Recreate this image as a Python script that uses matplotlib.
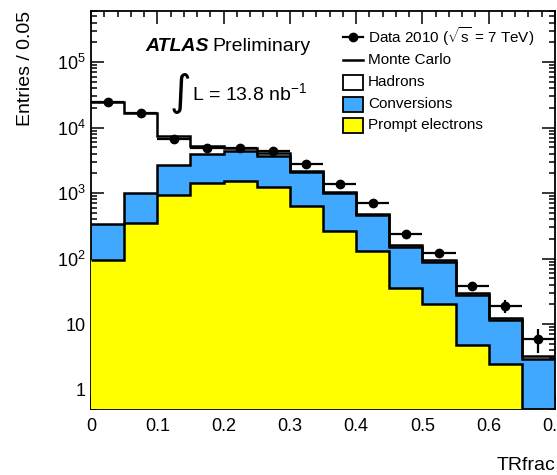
import numpy as np
import matplotlib
matplotlib.use("Agg")
import matplotlib.pyplot as plt
from matplotlib.patches import Rectangle
from matplotlib.ticker import MultipleLocator, LogLocator, FuncFormatter, NullFormatter

plt.rcParams["font.family"] = ["Liberation Sans", "DejaVu Sans"]
plt.rcParams["mathtext.fontset"] = "custom"
plt.rcParams["mathtext.rm"] = "Liberation Sans"
plt.rcParams["mathtext.it"] = "Liberation Sans:italic"

# --- histogram contents (TRfrac, bins of 0.05) ---
bin_edges = np.linspace(0.0, 0.7, 15)
prompt = [95, 345, 935, 1443, 1550, 1253, 635, 263, 132, 35, 20, 4.75, 2.5, 0]
conversions = [238, 670, 1755, 2520, 2850, 2480, 1445, 730, 333, 116, 69, 23, 9.0, 2.9]
hadrons = [23770, 15590, 4810, 1170, 440, 330, 120, 47, 20, 9, 6, 1.8, 0.8, 0.3]

data = [24100, 16400, 6720, 4840, 4940, 4450, 2790, 1393, 713, 239, 123, 37.6, 18.8, 6.0]
data_err = [155, 128, 82, 70, 70, 67, 53, 37, 27, 15.5, 11.1, 6.1, 4.3, 2.4]

BLUE = "#40A8FF"
YELLOW = "#FFFF00"

W, H = 557, 475
fig = plt.figure(figsize=(W / 100, H / 100), dpi=100)
ax = fig.add_axes([91 / W, 1 - 409.3 / H, (555 - 91) / W, (409.3 - 11) / H])

prompt_top = np.array(prompt, dtype=float)
conv_top = prompt_top + np.array(conversions, dtype=float)
mc_total = conv_top + np.array(hadrons, dtype=float)
centers = 0.5 * (bin_edges[:-1] + bin_edges[1:])

ax.set_yscale("log")

# stacked fills
ax.stairs(mc_total, bin_edges, baseline=1e-3, fill=True, color="white", zorder=1)
ax.stairs(conv_top, bin_edges, baseline=1e-3, fill=True, color=BLUE, zorder=2)
ax.stairs(prompt_top, bin_edges, baseline=1e-3, fill=True, color=YELLOW, zorder=3)

# outlines
for top in (prompt_top, conv_top, mc_total):
    ax.stairs(top, bin_edges, baseline=None, color="black", lw=1.8, zorder=4)

# data
ax.errorbar(centers, data, xerr=0.025, yerr=data_err, fmt="o", color="black",
            ms=6, lw=1.6, capsize=0, zorder=6)

ax.set_xlim(0, 0.7)
ax.set_ylim(0.5, 6e5)

ax.xaxis.set_major_locator(MultipleLocator(0.1))
ax.xaxis.set_minor_locator(MultipleLocator(0.02))
ax.yaxis.set_major_locator(LogLocator(base=10, numticks=20))
ax.yaxis.set_minor_locator(LogLocator(base=10, subs=np.arange(2, 10), numticks=20))
ax.yaxis.set_minor_formatter(NullFormatter())


def ylab(v, pos):
    if v < 1.5:
        return "1"
    if v < 15:
        return "10"
    return r"$\mathregular{10^{%d}}$" % int(round(np.log10(v)))


def xlab(v, pos):
    return "0" if abs(v) < 1e-9 else f"{v:.1f}"


ax.yaxis.set_major_formatter(FuncFormatter(ylab))
ax.xaxis.set_major_formatter(FuncFormatter(xlab))
ax.tick_params(which="both", direction="in", top=True, right=True, width=1.1,
               labelsize=13)
ax.tick_params(which="major", length=9.5)
ax.tick_params(which="minor", length=4.5)
ax.tick_params(axis="x", pad=6)
ax.tick_params(axis="y", pad=4)
for s in ax.spines.values():
    s.set_linewidth(1.3)

# overlay in pixel coordinates for annotations and legend
ov = fig.add_axes([0, 0, 1, 1], zorder=10)
ov.set_xlim(0, W)
ov.set_ylim(H, 0)
ov.axis("off")

ov.text(26, 11, "Entries / 0.05", rotation=90, ha="center", va="top", fontsize=14)
ov.text(555, 470, "TRfrac", ha="right", va="baseline", fontsize=14)

ov.text(145, 51, "ATLAS", fontsize=14, fontweight="bold", fontstyle="italic",
        va="baseline")
ov.text(212, 51, "Preliminary", fontsize=14, va="baseline")
ov.text(180, 93, "\u222b", fontsize=30, ha="center", va="center",
        family="DejaVu Sans")
ov.text(192, 100, r"L = 13.8 nb$^{\mathregular{-1}}$", fontsize=14, va="baseline")

# legend
rows = [37, 60, 82, 104, 125]
ov.plot([343, 363], [rows[0]] * 2, color="black", lw=1.6)
ov.plot([353], [rows[0]], "o", color="black", ms=6)
ov.plot([343, 363], [rows[1]] * 2, color="black", lw=1.8)
for y, fc in zip(rows[2:], ["white", BLUE, YELLOW]):
    ov.add_patch(Rectangle((343, y - 7.5), 20, 15, facecolor=fc,
                           edgecolor="black", lw=1.3))
labels = [r"Data 2010 ($\sqrt{\mathregular{s}}$ = 7 TeV)", "Monte Carlo",
          "Hadrons", "Conversions", "Prompt electrons"]
for y, lab in zip(rows, labels):
    ov.text(368, y, lab, fontsize=11, va="center")

fig.savefig("out.png", dpi=100)
